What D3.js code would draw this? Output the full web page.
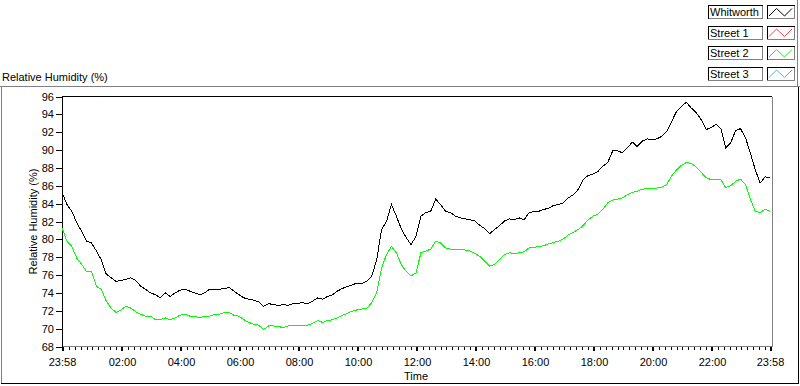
<!DOCTYPE html>
<html>
<head>
    <title>Relative Humidity</title>
    <script src="https://d3js.org/d3.v7.min.js"></script>
    <style>
        body { margin: 0; background: #fff; }
        text { font-family: "Liberation Sans", Arial, sans-serif; font-size: 11px; fill: #000; }
        .series { fill: none; stroke-width: 1; shape-rendering: crispEdges; }
    </style>
</head>
<body>
    <div id="chart"></div>
    <script>
        // Legend entries
        const seriesNames = ["Whitworth", "Street 1", "Street 2", "Street 3"];
        const seriesColors = ["#000000", "#ff4040", "#00ff00", "#40b4ff"];

        // Samples every 10 minutes starting at 23:58
        const stepMinutes = 10;
        const whitworth = [
            85.3, 83.9, 83.15, 81.85, 80.9, 79.8, 79.6, 78.7, 77.7, 76.1,
            75.7, 75.3, 75.4, 75.5, 75.7, 75.4, 74.75, 74.4, 74.0, 73.8,
            73.45, 74.0, 73.6, 74.0, 74.3, 74.4, 74.2, 74.0, 73.8, 74.0,
            74.4, 74.4, 74.4, 74.5, 74.6, 74.2, 73.8, 73.45, 73.3, 73.2,
            73.0, 72.5, 72.8, 72.7, 72.6, 72.7, 72.6, 72.8, 72.85, 72.9,
            72.8, 73.1, 73.45, 73.3, 73.6, 73.8, 74.2, 74.5, 74.7, 74.9,
            75.1, 75.05, 75.3, 75.9, 77.7, 81.1, 82.0, 83.9, 82.6, 81.2,
            80.2, 79.4, 80.35, 82.6, 83.0, 83.15, 84.5, 83.9, 83.15, 83.0,
            82.6, 82.4, 82.3, 82.2, 82.05, 81.55, 81.2, 80.65, 81.1, 81.55,
            82.05, 82.3, 82.2, 82.4, 82.2, 83.0, 83.1, 83.15, 83.35, 83.5,
            83.8, 83.9, 84.1, 84.65, 85.0, 85.6, 86.7, 87.15, 87.3, 87.6,
            88.2, 88.6, 89.9, 89.9, 89.7, 90.25, 90.9, 90.4, 91.0, 91.25,
            91.2, 91.25, 91.55, 92.1, 93.2, 94.35, 94.9, 95.35, 94.7, 94.2,
            93.4, 92.3, 92.5, 92.9, 92.4, 90.25, 90.8, 92.2, 92.4, 91.4,
            89.7, 87.8, 86.3, 87.0, 86.9
        ];
        const street2 = [
            81.3, 79.8, 79.2, 77.9, 77.2, 76.4, 76.4, 74.75, 74.4, 73.1,
            72.3, 71.8, 72.1, 72.5, 72.3, 71.9, 71.6, 71.4, 71.4, 71.0,
            71.0, 71.2, 71.0, 71.2, 71.5, 71.6, 71.4, 71.4, 71.2, 71.4,
            71.4, 71.6, 71.6, 71.8, 71.8, 71.5, 71.4, 71.0, 70.7, 70.5,
            70.4, 69.9, 70.3, 70.3, 70.25, 70.1, 70.3, 70.3, 70.35, 70.4,
            70.4, 70.6, 70.9, 70.7, 70.9, 71.0, 71.2, 71.5, 71.7, 71.95,
            72.1, 72.2, 72.3, 72.9, 74.0, 76.8, 78.3, 79.2, 78.5, 77.2,
            76.4, 75.9, 76.25, 78.5, 78.7, 78.9, 79.8, 79.6, 79.05, 78.9,
            78.9, 78.9, 78.8, 78.7, 78.4, 78.1, 77.55, 77.0, 77.2, 77.75,
            78.3, 78.5, 78.4, 78.5, 78.6, 79.05, 79.1, 79.2, 79.3, 79.5,
            79.65, 79.8, 80.05, 80.5, 80.8, 81.1, 81.55, 82.2, 82.6, 82.8,
            83.35, 84.1, 84.4, 84.5, 84.65, 85.0, 85.25, 85.4, 85.6, 85.7,
            85.75, 85.75, 85.85, 86.15, 87.1, 87.8, 88.3, 88.6, 88.5, 88.1,
            87.5, 86.9, 86.7, 86.7, 86.7, 85.8, 86.0, 86.5, 86.75, 86.15,
            84.5, 83.15, 83.0, 83.35, 83.15
        ];

        // Axis ticks
        const yTicks = [68, 70, 72, 74, 76, 78, 80, 82, 84, 86, 88, 90, 92, 94, 96];
        const xTickLabels = ["23:58", "02:00", "04:00", "06:00", "08:00", "10:00", "12:00",
                             "14:00", "16:00", "18:00", "20:00", "22:00", "23:58"];

        const W = 800, H = 386;
        const plot = {left: 62, right: 772, top: 96.5, bottom: 346.5};

        const svg = d3.select("#chart")
            .append("svg")
            .attr("width", W)
            .attr("height", H);

        const start = new Date(2000, 0, 1, 23, 58);
        const end = d3.timeDay.offset(start, 1);
        const timeAt = i => d3.timeMinute.offset(start, i * stepMinutes);

        const x = d3.scaleTime().domain([start, end]).range([plot.left, plot.right - 2]);
        const y = d3.scaleLinear().domain([68, 96]).range([plot.bottom, plot.top]);

        // outer frame
        const frame = svg.append("g").attr("shape-rendering", "crispEdges");
        frame.append("line").attr("x1", 0).attr("x2", W).attr("y1", 86.5).attr("y2", 86.5).attr("stroke", "#808080");
        frame.append("line").attr("x1", 1.5).attr("x2", 1.5).attr("y1", 86).attr("y2", 384).attr("stroke", "#808080");
        frame.append("line").attr("x1", 797.5).attr("x2", 797.5).attr("y1", 0).attr("y2", 86).attr("stroke", "#808080");
        frame.append("line").attr("x1", 798.5).attr("x2", 798.5).attr("y1", 87).attr("y2", 384).attr("stroke", "#000");
        frame.append("line").attr("x1", 1).attr("x2", 799).attr("y1", 383.5).attr("y2", 383.5).attr("stroke", "#000");

        // graph title
        svg.append("text").attr("x", 2).attr("y", 80.5).text("Relative Humidity (%)");

        // plot area border
        const border = svg.append("g").attr("shape-rendering", "crispEdges");
        border.append("line").attr("x1", plot.left).attr("x2", plot.right).attr("y1", plot.top).attr("y2", plot.top)
            .attr("stroke", "#000");
        border.append("line").attr("x1", plot.right).attr("x2", plot.right).attr("y1", plot.top).attr("y2", plot.bottom)
            .attr("stroke", "#808080");
        border.append("line").attr("x1", plot.left).attr("x2", plot.right).attr("y1", plot.bottom).attr("y2", plot.bottom)
            .attr("stroke", "#808080");
        border.append("line").attr("x1", plot.left).attr("x2", plot.left).attr("y1", plot.top).attr("y2", plot.bottom + 1)
            .attr("stroke", "#000");

        // y axis
        const yAxis = svg.append("g")
            .attr("transform", `translate(${plot.left},0)`)
            .call(d3.axisLeft(y).tickValues(yTicks).tickSize(6).tickPadding(2).tickFormat(d3.format("d")));
        yAxis.select(".domain").remove();
        yAxis.selectAll("line").attr("shape-rendering", "crispEdges");
        yAxis.selectAll("text").attr("font-family", null).attr("font-size", null);

        // x axis: labelled major ticks + 12 minute minor ticks
        const hourParse = d3.timeParse("%H:%M");
        const xTickDates = xTickLabels.map((s, i) => {
            if (i === 0) return start;
            if (i === xTickLabels.length - 1) return end;
            const t = hourParse(s);
            return new Date(2000, 0, 2, t.getHours(), t.getMinutes());
        });
        const minor = d3.timeMinute.every(12).range(d3.timeMinute.offset(start, 2), end)
            .filter(d => d.getHours() % 2 !== 0 || d.getMinutes() !== 0);

        svg.append("g")
            .attr("transform", `translate(0,${plot.bottom})`)
            .call(d3.axisBottom(x).tickValues(minor).tickSize(3).tickFormat(""))
            .call(g => g.select(".domain").remove())
            .selectAll("line").attr("shape-rendering", "crispEdges");

        const xAxis = svg.append("g")
            .attr("transform", `translate(0,${plot.bottom})`)
            .call(d3.axisBottom(x).tickValues(xTickDates).tickSize(4).tickPadding(8)
                .tickFormat((d, i) => xTickLabels[i]));
        xAxis.select(".domain").remove();
        xAxis.selectAll("line").attr("shape-rendering", "crispEdges").attr("stroke-width", 2);
        xAxis.selectAll("text").attr("font-family", null).attr("font-size", null);

        // axis names
        svg.append("text")
            .attr("x", (plot.left + plot.right) / 2 - 1)
            .attr("y", 380)
            .attr("text-anchor", "middle")
            .text("Time");
        svg.append("text")
            .attr("transform", `translate(37,${(plot.top + plot.bottom) / 2}) rotate(-90)`)
            .attr("text-anchor", "middle")
            .text("Relative Humidity (%)");

        // series lines
        const line = d3.line()
            .x((d, i) => x(timeAt(i)))
            .y(d => y(d));

        svg.append("path").datum(whitworth).attr("class", "series")
            .attr("stroke", seriesColors[0]).attr("d", line);
        svg.append("path").datum(street2).attr("class", "series")
            .attr("stroke", seriesColors[2]).attr("d", line);

        // legend
        const legend = svg.append("g").attr("shape-rendering", "crispEdges");
        const rows = legend.selectAll("g")
            .data(seriesNames)
            .join("g")
            .attr("transform", (d, i) => `translate(0,${5 + i * 20.5})`);

        function bevelBox(g, x0, w, h) {
            g.append("rect").attr("x", x0 + 0.5).attr("y", 0.5).attr("width", w).attr("height", h)
                .attr("fill", "#fff").attr("stroke", "#808080");
            g.append("path").attr("d", `M${x0 + 0.5},${h + 0.5}V0.5H${x0 + w + 0.5}`)
                .attr("fill", "none").attr("stroke", "#000");
        }
        rows.each(function(d, i) {
            const g = d3.select(this);
            bevelBox(g, 708, 54, 13);
            bevelBox(g, 767, 27, 13);
            g.append("text").attr("x", 710).attr("y", 11).text(d);
            g.append("path")
                .attr("d", "M769,11L776.5,3.5L784.5,11L792,3.5")
                .attr("fill", "none")
                .attr("stroke", seriesColors[i])
                .attr("shape-rendering", "auto");
        });
    </script>
</body>
</html>
